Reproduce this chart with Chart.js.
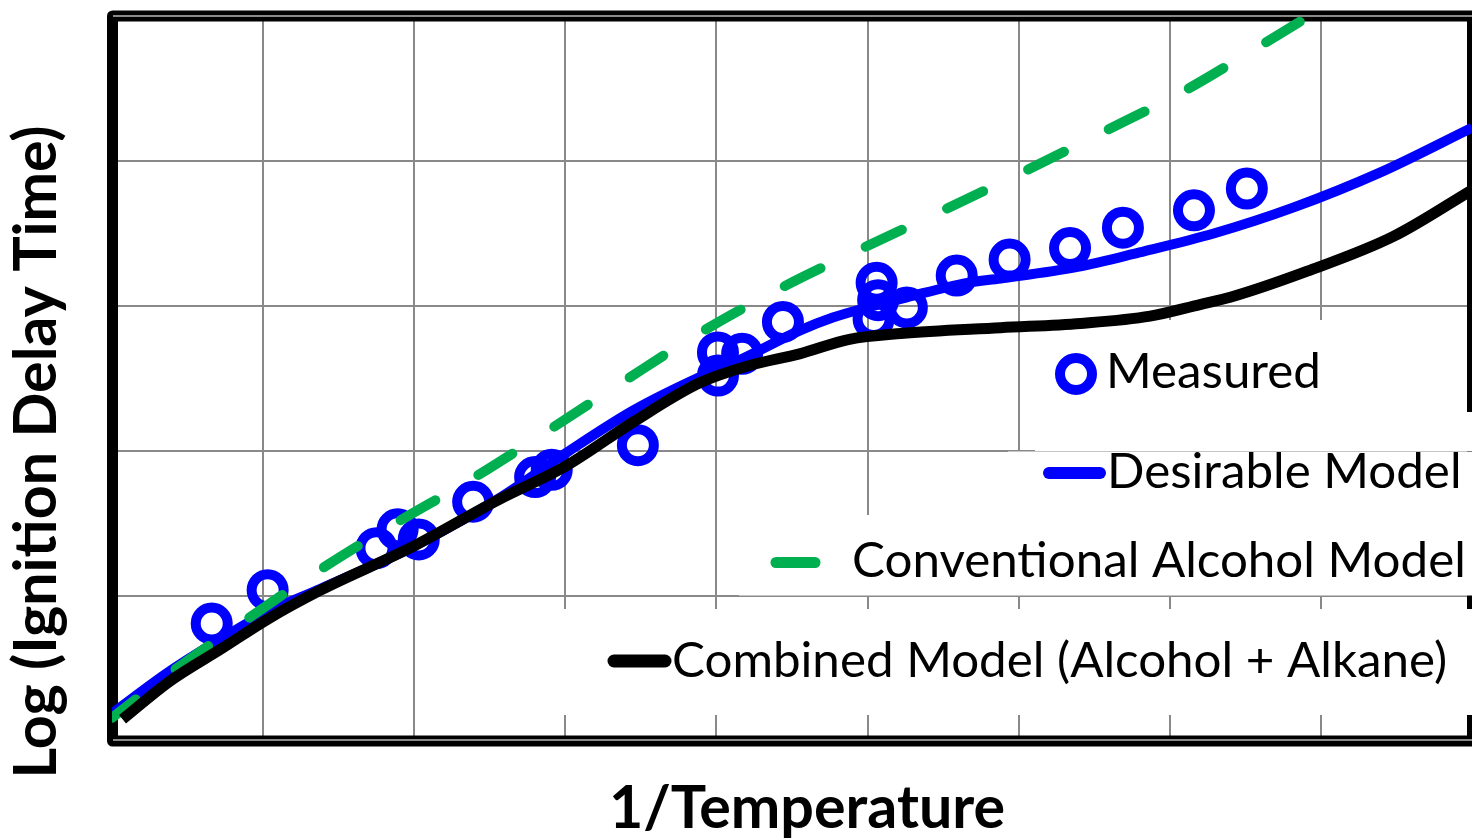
<!DOCTYPE html>
<html><head><meta charset="utf-8">
<script src="https://cdn.jsdelivr.net/npm/chart.js@4.4.1/dist/chart.umd.min.js"></script>
<style>html,body{margin:0;padding:0;background:#fff}canvas{display:block}</style>
</head><body>
<canvas id="c" width="1472" height="840"></canvas>
<script>
// ---- text ----
const xAxisTitle = '1/Temperature';
const yAxisTitle = 'Log (Ignition Delay Time)';
const seriesNames = ['Measured', 'Desirable Model', 'Conventional Alcohol Model', 'Combined Model (Alcohol + Alkane)'];

// ---- axis ranges (no tick labels shown) ----
const xTickValues = [0, 1, 2, 3, 4, 5, 6, 7, 8, 9];
const yTickValues = [0, 1, 2, 3, 4, 5];

// ---- series values (arbitrary units) ----
const measuredX = [0.66, 1.03, 1.75, 1.89, 2.03, 2.39, 2.80, 2.91, 3.48, 4.01, 4.01, 4.17, 4.44, 5.06, 5.07, 5.04, 5.26, 5.59, 5.94, 6.34, 6.69, 7.16, 7.51];
const measuredY = [0.81, 1.04, 1.33, 1.46, 1.39, 1.65, 1.82, 1.87, 2.04, 2.68, 2.52, 2.67, 2.89, 3.16, 3.04, 2.91, 2.99, 3.21, 3.32, 3.40, 3.54, 3.66, 3.81];

const desirableX = [0, 0.38, 0.73, 1.03, 1.38, 1.99, 2.57, 3.01, 3.45, 3.89, 4.16, 4.55, 4.77, 5.00, 5.26, 5.66, 5.88, 6.39, 6.80, 7.29, 7.82, 8.39, 9];
const desirableY = [0.19, 0.48, 0.71, 0.89, 1.05, 1.34, 1.68, 1.99, 2.28, 2.51, 2.63, 2.83, 2.92, 2.99, 3.06, 3.16, 3.19, 3.27, 3.37, 3.50, 3.68, 3.92, 4.23];

const conventionalX = [0, 0.40, 0.88, 1.39, 1.89, 2.37, 2.90, 3.40, 3.90, 4.42, 4.95, 5.48, 6.02, 6.54, 7.09, 7.56, 7.86];
const conventionalY = [0.16, 0.48, 0.83, 1.19, 1.51, 1.80, 2.15, 2.49, 2.82, 3.12, 3.39, 3.65, 3.92, 4.19, 4.48, 4.77, 4.96];

const combinedX = [0.07, 0.38, 0.73, 1.03, 1.38, 1.99, 2.55, 3.01, 3.45, 3.89, 4.22, 4.55, 4.88, 5.22, 5.88, 6.41, 6.87, 7.20, 7.40, 7.91, 8.48, 9];
const combinedY = [0.15, 0.41, 0.64, 0.84, 1.04, 1.34, 1.66, 1.90, 2.20, 2.47, 2.59, 2.67, 2.77, 2.81, 2.85, 2.88, 2.93, 3.01, 3.06, 3.24, 3.48, 3.80];

// ---- helpers ----
const FONT = 'Lato, "Open Sans", "DejaVu Sans", sans-serif';
const pts = (xs, ys) => xs.map((x, i) => ({x: x, y: ys[i]}));
function fitSize(text, weight, target) {
  const c = document.createElement('canvas').getContext('2d');
  c.font = weight + ' 100px ' + FONT;
  return 100 * target / c.measureText(text).width;
}
const titleSize = (fitSize(yAxisTitle, 'bold', 655) + fitSize(xAxisTitle, 'bold', 395)) / 2;
const legendSize = fitSize(seriesNames[3], 'normal', 775);

const BLUE = '#0000FF', GREEN = '#00B050', BLACK = '#000000', GRID = '#898989';

// legend layout (white boxes that hide gridlines, then sample + label)
const legendBoxes = [
  [1035, 320, 1462, 451],
  [1462, 412, 1472, 451],
  [1008, 451.5, 1472, 515],
  [739, 515, 1472, 595.5],
  [540, 609, 1472, 715]
];

const decor = {
  id: 'decor',
  beforeDatasetsDraw(chart) {
    const {ctx, chartArea: a} = chart;
    ctx.save();
    // heavy frame
    ctx.strokeStyle = '#000'; ctx.lineWidth = 11; ctx.lineJoin = 'round';
    ctx.strokeRect(a.left + 0.5, a.top, a.right - a.left, a.bottom - a.top);
    // thin gray lines over top/bottom frame
    ctx.strokeStyle = GRID; ctx.lineWidth = 2;
    ctx.beginPath();
    ctx.moveTo(a.left + 1, a.top); ctx.lineTo(a.right, a.top);
    ctx.moveTo(a.left + 1, a.bottom - 1); ctx.lineTo(a.right, a.bottom - 1);
    ctx.stroke();
    // legend backgrounds
    ctx.fillStyle = '#fff';
    legendBoxes.forEach(b => ctx.fillRect(b[0], b[1], b[2] - b[0], b[3] - b[1]));
    // legend samples
    ctx.lineCap = 'round';
    ctx.strokeStyle = BLUE; ctx.lineWidth = 10;
    ctx.beginPath(); ctx.arc(1076, 374, 16, 0, Math.PI * 2); ctx.stroke();
    ctx.lineWidth = 12;
    ctx.beginPath(); ctx.moveTo(1049, 473); ctx.lineTo(1100, 473); ctx.stroke();
    ctx.strokeStyle = GREEN; ctx.lineWidth = 11;
    ctx.beginPath(); ctx.moveTo(776, 562.5); ctx.lineTo(815, 562.5); ctx.stroke();
    ctx.strokeStyle = BLACK; ctx.lineWidth = 13;
    ctx.beginPath(); ctx.moveTo(614, 661); ctx.lineTo(665, 661); ctx.stroke();
    // legend labels
    ctx.fillStyle = '#000';
    ctx.font = 'normal ' + legendSize.toFixed(1) + 'px ' + FONT;
    ctx.textAlign = 'left'; ctx.textBaseline = 'alphabetic';
    ctx.fillText(seriesNames[0], 1106, 388);
    ctx.fillText(seriesNames[1], 1107, 488);
    ctx.fillText(seriesNames[2], 852, 577);
    ctx.fillText(seriesNames[3], 672, 677);
    ctx.restore();
  },
  afterDraw(chart) {
    const {ctx} = chart;
    ctx.save();
    ctx.fillStyle = '#000';
    ctx.font = 'bold ' + titleSize.toFixed(1) + 'px ' + FONT;
    ctx.textAlign = 'center'; ctx.textBaseline = 'alphabetic';
    ctx.fillText(xAxisTitle, 807, 828);
    ctx.translate(56, 452);
    ctx.rotate(-Math.PI / 2);
    ctx.fillText(yAxisTitle, 0, 0);
    ctx.restore();
  }
};

const lineBase = {showLine: true, pointRadius: 0, pointHoverRadius: 0, fill: false, cubicInterpolationMode: 'monotone', borderJoinStyle: 'round'};

new Chart(document.getElementById('c'), {
  type: 'scatter',
  data: {
    datasets: [
      Object.assign({}, lineBase, {label: seriesNames[3], data: pts(combinedX, combinedY), borderColor: BLACK, borderWidth: 11, borderCapStyle: 'butt', order: 0}),
      Object.assign({}, lineBase, {label: seriesNames[2], data: pts(conventionalX, conventionalY), borderColor: GREEN, borderWidth: 10, borderDash: [40, 50], borderDashOffset: 10, borderCapStyle: 'round', order: 1}),
      Object.assign({}, lineBase, {label: seriesNames[1], data: pts(desirableX, desirableY), borderColor: BLUE, borderWidth: 10, order: 2}),
      {label: seriesNames[0], data: pts(measuredX, measuredY), showLine: false, pointStyle: 'circle', pointRadius: 16, pointHoverRadius: 16, pointBorderWidth: 10, pointBorderColor: BLUE, pointBackgroundColor: 'rgba(0,0,0,0)', order: 3}
    ]
  },
  options: {
    responsive: false,
    animation: false,
    devicePixelRatio: 1,
    layout: {autoPadding: false, padding: {left: 112, top: 16, right: 0, bottom: 99}},
    plugins: {legend: {display: false}, tooltip: {enabled: false}},
    events: [],
    scales: {
      x: {type: 'linear', min: xTickValues[0], max: xTickValues[xTickValues.length - 1],
          afterBuildTicks: s => { s.ticks = xTickValues.map(v => ({value: v})); },
          ticks: {display: false}, grid: {color: GRID, lineWidth: 2, drawTicks: false}, border: {display: false}},
      y: {type: 'linear', min: yTickValues[0], max: yTickValues[yTickValues.length - 1],
          afterBuildTicks: s => { s.ticks = yTickValues.map(v => ({value: v})); },
          ticks: {display: false}, grid: {color: GRID, lineWidth: 2, drawTicks: false}, border: {display: false}}
    }
  },
  plugins: [decor]
});
</script>
</body></html>
